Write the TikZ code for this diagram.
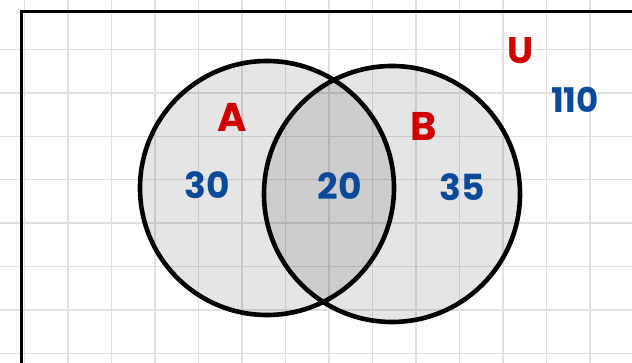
\documentclass[tikz,border=0pt]{standalone}
\usepackage{fontspec}
\setmainfont{Poppins}
\usepackage{xcolor}
\definecolor{setred}{HTML}{D40000}
\definecolor{setblue}{HTML}{0B4A9A}

\begin{document}
\begin{tikzpicture}[x=1pt, y=-1pt]
    \useasboundingbox (0,0) rectangle (632,363);
    \fill[white] (0,0) rectangle (632,363);

    % Draw grid lines
    \foreach \i in {0,...,13} {
      \draw[black!12, line width=1.3pt] (24.5+43.5*\i, 0) -- (24.5+43.5*\i, 363);
    }
    \foreach \j in {0,...,7} {
      \draw[black!12, line width=1.3pt] (0, 49.5+43.4*\j) -- (632, 49.5+43.4*\j);
    }

    % Universe frame
    \draw[line width=3.3pt] (640, 11.7) -- (21.7, 11.7) -- (21.7, 370);

    % Sets A and B
    \node[draw, circle, inner sep=0, line width=4.6pt, minimum size=254pt, fill=black, fill opacity=0.1, draw opacity=1] (setA) at (267, 188) {};
    \node[draw, circle, inner sep=0, line width=4.6pt, minimum size=256pt, fill=black, fill opacity=0.1, draw opacity=1] (setB) at (392, 194) {};

    % Set names
    \node[text=setred, inner sep=0, font=\fontsize{40}{40}\selectfont\bfseries] (labelA) at (232, 117) {A};
    \node[text=setred, inner sep=0, font=\fontsize{40}{40}\selectfont\bfseries] (labelB) at (424, 126) {B};
    \node[text=setred, inner sep=0, font=\fontsize{37}{37}\selectfont\bfseries] (labelU) at (521, 51) {U};

    % Counts
    \node[text=setblue, inner sep=0, font=\fontsize{36}{36}\selectfont\bfseries] (onlyA) at (207, 185) {30};
    \node[text=setblue, inner sep=0, font=\fontsize{36}{36}\selectfont\bfseries] (both) at (340, 186) {20};
    \node[text=setblue, inner sep=0, font=\fontsize{36}{36}\selectfont\bfseries] (onlyB) at (462, 187) {35};
    \node[text=setblue, inner sep=0, font=\fontsize{34}{34}\selectfont\bfseries] (total) at (575, 100) {110};
\end{tikzpicture}
\end{document}
